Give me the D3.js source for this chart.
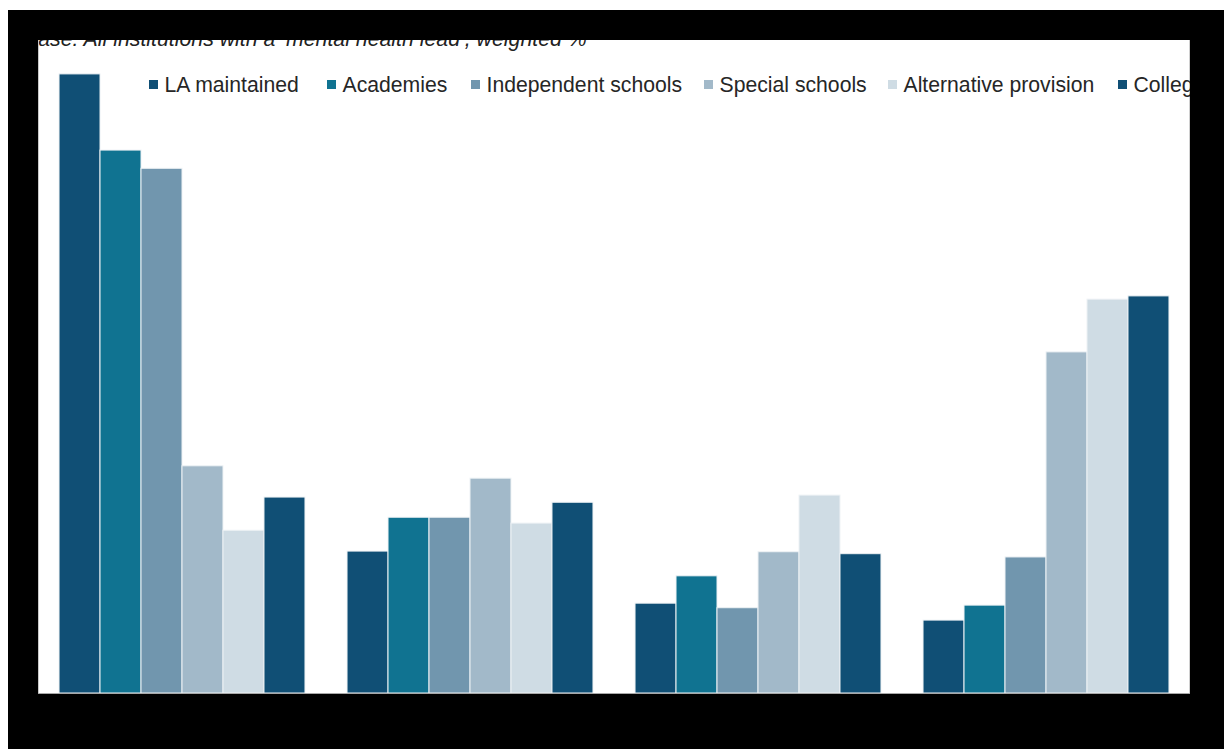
<!DOCTYPE html>
<html>
<head>
<meta charset="utf-8">
<script src="https://cdn.jsdelivr.net/npm/d3@7"></script>
<style>
  html, body { margin: 0; padding: 0; background: #fff; }
  svg { display: block; }
  text { font-family: "Liberation Sans", Arial, sans-serif; }
</style>
</head>
<body>
<svg id="chart" width="1224" height="749"></svg>
<script>
// ---- data ----
const categories = ["Group 1", "Group 2", "Group 3", "Group 4"];
const seriesNames = ["LA maintained", "Academies", "Independent schools", "Special schools", "Alternative provision", "Colleges"];
const seriesColors = ["#104f75", "#107391", "#7196ae", "#a2b9c9", "#cfdce4", "#104f75"];
const laMaintained = [95.1, 21.8, 13.8, 11.2];
const academies = [83.4, 27.0, 18.0, 13.5];
const independentSchools = [80.6, 27.0, 13.1, 20.9];
const specialSchools = [34.9, 33.0, 21.7, 52.4];
const alternativeProvision = [25.0, 26.1, 30.4, 60.5];
const colleges = [30.1, 29.3, 21.4, 61.0];
const titleText = "Base: All institutions with a \u2018mental health lead\u2019, weighted %";

const seriesValues = [laMaintained, academies, independentSchools, specialSchools, alternativeProvision, colleges];

// ---- layout ----
const W = 1224, H = 749;
const panel = { x: 38, y: 40, w: 1152, h: 654 };
const baseY = 693;
const legendX = [149, 327, 471, 704, 888, 1118];

const svg = d3.select("#chart");
svg.append("rect").attr("x", 0).attr("y", 0).attr("width", W).attr("height", H).attr("fill", "#fff");
svg.append("rect").attr("x", 8).attr("y", 10).attr("width", W - 8).attr("height", H - 10).attr("fill", "#000");
svg.append("rect").attr("x", panel.x).attr("y", panel.y).attr("width", panel.w).attr("height", panel.h).attr("fill", "#fff");

svg.append("defs").append("clipPath").attr("id", "panelClip")
  .append("rect").attr("x", panel.x).attr("y", panel.y).attr("width", panel.w).attr("height", panel.h);

const g = svg.append("g").attr("clip-path", "url(#panelClip)");

const x0 = d3.scaleBand().domain(categories).range([panel.x, panel.x + panel.w])
  .paddingInner(0.146).paddingOuter(0.073);
const x1 = d3.scaleBand().domain(seriesNames).range([0, x0.bandwidth()]);
const y = d3.scaleLinear().domain([0, 100]).range([baseY, 42]);

// title (partly hidden)
g.append("text").attr("x", 24).attr("y", 46)
  .attr("font-size", 21.3).attr("font-style", "italic").attr("fill", "#222")
  .text(titleText);

// bars
const groups = g.selectAll("g.cat").data(categories).join("g")
  .attr("class", "cat").attr("transform", d => `translate(${x0(d)},0)`);
groups.selectAll("rect").data((c, ci) => seriesNames.map((s, si) => ({ s, si, v: seriesValues[si][ci] })))
  .join("rect")
  .attr("x", d => x1(d.s))
  .attr("y", d => y(d.v))
  .attr("width", x1.bandwidth())
  .attr("height", d => baseY - y(d.v))
  .attr("fill", d => seriesColors[d.si])
  .attr("stroke", "#eef2f5")
  .attr("stroke-width", 1);

// axis line & panel border
g.append("line").attr("x1", panel.x).attr("x2", panel.x + panel.w).attr("y1", baseY + 0.5).attr("y2", baseY + 0.5)
  .attr("stroke", "#a8a8a8").attr("stroke-width", 1);
g.append("line").attr("x1", panel.x + 0.5).attr("x2", panel.x + 0.5).attr("y1", panel.y).attr("y2", baseY)
  .attr("stroke", "#c8c8c8").attr("stroke-width", 1);
g.append("line").attr("x1", panel.x + panel.w - 0.5).attr("x2", panel.x + panel.w - 0.5).attr("y1", panel.y).attr("y2", baseY)
  .attr("stroke", "#d0d0d0").attr("stroke-width", 1);

// legend
const legend = g.append("g");
seriesNames.forEach((name, i) => {
  legend.append("rect").attr("x", legendX[i]).attr("y", 80).attr("width", 9).attr("height", 9)
    .attr("fill", seriesColors[i]);
  legend.append("text").attr("x", legendX[i] + 15.5).attr("y", 92)
    .attr("font-size", 21.2).attr("fill", "#262626").text(name);
});
</script>
</body>
</html>
